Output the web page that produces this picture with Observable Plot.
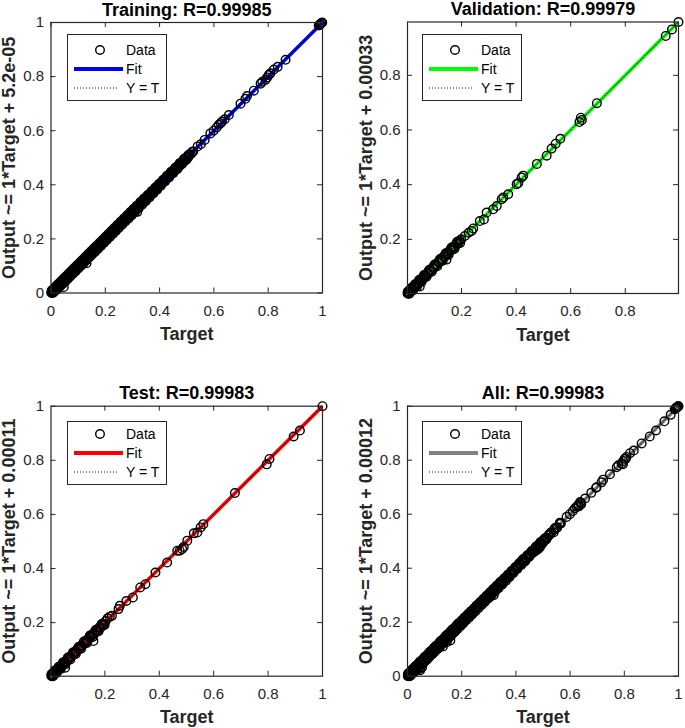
<!DOCTYPE html>
<html><head><meta charset="utf-8">
<script src="https://cdn.jsdelivr.net/npm/d3@7"></script>
<script src="https://cdn.jsdelivr.net/npm/@observablehq/plot@0.6"></script>
<style>
body{margin:0;background:#fff;}
#chart{position:relative;width:685px;height:728px;background:#fff;font-family:"Liberation Sans",Arial,sans-serif;overflow:hidden;}
#chart > svg{position:absolute;overflow:visible;}
</style></head><body><div id="chart"></div>
<script>
// ---- data: [target, output] pairs ----
const trainingPoints = [
[0.001,0.003],[0.002,0.000],[0.003,0.006],[0.004,0.002],[0.005,0.009],[0.006,0.004],[0.008,0.011],[0.009,0.006],[0.010,0.014],[0.012,0.008],
[0.013,0.016],[0.015,0.011],[0.017,0.019],[0.018,0.014],[0.020,0.023],[0.022,0.018],[0.024,0.027],[0.026,0.021],[0.028,0.031],[0.030,0.026],
[0.032,0.035],[0.034,0.030],[0.036,0.039],[0.038,0.033],[0.040,0.043],[0.043,0.038],[0.045,0.048],[0.047,0.022],[0.047,0.042],[0.049,0.053],
[0.052,0.047],[0.054,0.057],[0.056,0.051],[0.059,0.062],[0.061,0.056],[0.063,0.067],[0.066,0.061],[0.068,0.071],[0.070,0.066],[0.073,0.076],
[0.075,0.070],[0.078,0.081],[0.080,0.075],[0.082,0.086],[0.085,0.080],[0.087,0.090],[0.090,0.085],[0.092,0.095],[0.095,0.090],[0.097,0.100],
[0.100,0.095],[0.102,0.106],[0.105,0.100],[0.107,0.111],[0.110,0.105],[0.112,0.115],[0.115,0.110],[0.118,0.121],[0.120,0.115],[0.123,0.126],
[0.125,0.120],[0.128,0.131],[0.130,0.126],[0.131,0.110],[0.133,0.136],[0.135,0.131],[0.138,0.141],[0.140,0.136],[0.143,0.146],[0.146,0.141],
[0.148,0.151],[0.151,0.147],[0.153,0.157],[0.156,0.151],[0.159,0.162],[0.161,0.157],[0.164,0.167],[0.166,0.162],[0.169,0.172],[0.172,0.167],
[0.174,0.177],[0.177,0.173],[0.180,0.183],[0.182,0.178],[0.185,0.188],[0.188,0.183],[0.190,0.193],[0.193,0.189],[0.196,0.199],[0.198,0.194],
[0.201,0.204],[0.204,0.200],[0.207,0.210],[0.209,0.205],[0.212,0.215],[0.215,0.211],[0.218,0.221],[0.220,0.216],[0.223,0.226],[0.226,0.222],
[0.229,0.232],[0.232,0.228],[0.234,0.237],[0.237,0.233],[0.240,0.243],[0.243,0.239],[0.246,0.249],[0.249,0.245],[0.252,0.255],[0.255,0.251],
[0.258,0.261],[0.261,0.257],[0.264,0.267],[0.267,0.263],[0.270,0.273],[0.273,0.269],[0.276,0.279],[0.279,0.275],[0.282,0.285],[0.285,0.281],
[0.288,0.291],[0.291,0.287],[0.294,0.298],[0.297,0.293],[0.300,0.303],[0.303,0.299],[0.306,0.309],[0.309,0.305],[0.312,0.315],[0.315,0.311],
[0.318,0.300],[0.318,0.321],[0.322,0.318],[0.325,0.328],[0.328,0.324],[0.331,0.334],[0.334,0.330],[0.338,0.341],[0.341,0.337],[0.344,0.347],
[0.347,0.343],[0.351,0.354],[0.354,0.350],[0.357,0.360],[0.361,0.357],[0.364,0.367],[0.367,0.363],[0.371,0.374],[0.374,0.370],[0.378,0.381],
[0.381,0.377],[0.385,0.388],[0.388,0.384],[0.392,0.395],[0.396,0.392],[0.399,0.402],[0.403,0.399],[0.407,0.410],[0.410,0.406],[0.414,0.417],
[0.418,0.414],[0.421,0.424],[0.425,0.421],[0.429,0.432],[0.433,0.429],[0.437,0.440],[0.441,0.437],[0.444,0.447],[0.448,0.444],[0.452,0.455],
[0.456,0.452],[0.460,0.463],[0.464,0.460],[0.468,0.471],[0.472,0.468],[0.476,0.479],[0.480,0.476],[0.484,0.487],[0.488,0.484],[0.492,0.495],
[0.496,0.492],[0.500,0.503],[0.505,0.501],[0.510,0.512],[0.515,0.513],[0.520,0.522],[0.524,0.523],
[0.003,0.010],[0.007,0.000],[0.011,0.004],[0.014,0.021],[0.019,0.010],[0.023,0.030],[0.027,0.018],[0.031,0.038],[0.035,0.026],[0.039,0.046],
[0.044,0.034],[0.048,0.055],[0.053,0.043],[0.057,0.064],[0.062,0.052],[0.066,0.073],[0.071,0.061],[0.076,0.083],[0.081,0.071],[0.086,0.093],
[0.091,0.081],[0.096,0.103],[0.101,0.091],[0.106,0.113],[0.111,0.101],[0.116,0.123],[0.121,0.111],[0.126,0.133],[0.131,0.121],[0.137,0.144],
[0.142,0.132],[0.147,0.154],[0.152,0.142],[0.158,0.165],[0.163,0.153],[0.168,0.175],[0.173,0.163],[0.179,0.186],[0.184,0.174],[0.189,0.196],
[0.195,0.185],[0.200,0.207],[0.206,0.196],[0.211,0.218],[0.217,0.207],[0.222,0.229],[0.228,0.218],[0.233,0.240],[0.239,0.229],[0.244,0.251],
[0.250,0.240],[0.256,0.263],[0.262,0.252],[0.268,0.275],[0.274,0.264],[0.280,0.287],[0.286,0.276],[0.292,0.299],[0.298,0.288],[0.304,0.311],
[0.310,0.300],[0.316,0.323],[0.323,0.313],[0.329,0.336],[0.336,0.326],[0.342,0.349],[0.349,0.339],[0.356,0.362],[0.363,0.353],[0.370,0.376],
[0.377,0.368],[0.384,0.390],[0.391,0.382],[0.398,0.404],[0.405,0.397],[0.412,0.418],[0.420,0.412],[0.427,0.433],[0.435,0.427],[0.442,0.448],
[0.450,0.443],[0.458,0.464],[0.466,0.459],[0.474,0.480],[0.482,0.476],[0.490,0.496],[0.498,0.492],[0.506,0.510],
[0.005,0.006],[0.016,0.015],[0.025,0.024],[0.033,0.034],[0.042,0.040],[0.050,0.051],[0.058,0.057],[0.065,0.066],[0.074,0.072],[0.083,0.084],
[0.093,0.091],[0.103,0.104],[0.113,0.112],[0.124,0.125],[0.134,0.132],[0.144,0.145],[0.155,0.153],[0.165,0.166],[0.176,0.174],[0.186,0.187],
[0.197,0.195],[0.208,0.209],[0.219,0.217],[0.230,0.231],[0.241,0.239],[0.253,0.254],[0.265,0.263],[0.277,0.278],[0.289,0.287],[0.301,0.302],
[0.313,0.311],[0.326,0.327],[0.339,0.337],[0.352,0.353],[0.366,0.364],[0.380,0.381],[0.394,0.392],[0.409,0.410],[0.423,0.421],[0.438,0.439],
[0.454,0.452],[0.470,0.471],[0.486,0.484],[0.502,0.503],
[0.540,0.542],[0.552,0.550],[0.566,0.566],[0.587,0.590],[0.599,0.600],[0.610,0.612],[0.618,0.622],[0.625,0.628],[0.630,0.634],[0.640,0.642],
[0.655,0.658],[0.698,0.700],[0.716,0.718],[0.722,0.728],[0.747,0.748],[0.772,0.774],[0.778,0.781],[0.790,0.788],[0.796,0.797],[0.802,0.806],
[0.808,0.812],[0.821,0.826],[0.835,0.836],[0.864,0.862],[0.986,0.989],[0.990,0.992],[0.992,0.994],[0.996,0.998],[0.999,1.000]
];
const validationPoints = [
[0.002,0.003],[0.004,0.001],[0.006,0.008],[0.008,0.005],[0.011,0.013],[0.014,0.011],[0.017,0.019],[0.020,0.017],[0.024,0.026],[0.027,0.024],
[0.031,0.034],[0.035,0.032],[0.039,0.041],[0.043,0.040],[0.047,0.028],[0.047,0.050],[0.052,0.049],[0.056,0.059],[0.061,0.058],[0.065,0.068],
[0.070,0.067],[0.074,0.077],[0.079,0.076],[0.084,0.087],[0.089,0.086],[0.094,0.097],[0.099,0.096],[0.104,0.107],[0.109,0.106],[0.114,0.117],
[0.119,0.116],[0.124,0.127],[0.129,0.126],[0.134,0.137],[0.140,0.137],[0.145,0.126],[0.146,0.149],[0.152,0.149],[0.158,0.161],[0.164,0.161],
[0.170,0.173],[0.176,0.173],[0.181,0.185],[0.187,0.184],[0.193,0.196],[0.199,0.200],
[0.003,0.009],[0.009,0.001],[0.015,0.022],[0.022,0.013],[0.029,0.036],[0.037,0.028],[0.045,0.052],[0.054,0.045],[0.063,0.070],[0.072,0.063],
[0.081,0.088],[0.091,0.082],[0.101,0.108],[0.111,0.102],[0.121,0.128],[0.131,0.122],[0.142,0.149],[0.153,0.144],[0.163,0.170],[0.174,0.165],
[0.184,0.191],[0.195,0.187],
[0.005,0.005],[0.018,0.016],[0.033,0.034],[0.049,0.047],[0.067,0.068],[0.086,0.084],[0.106,0.107],[0.126,0.124],[0.148,0.149],[0.169,0.167],
[0.190,0.191],
[0.212,0.212],[0.226,0.224],[0.237,0.231],[0.243,0.240],[0.267,0.267],[0.282,0.273],[0.292,0.298],[0.316,0.310],[0.329,0.322],[0.347,0.347],
[0.353,0.353],[0.371,0.365],[0.402,0.402],[0.408,0.406],[0.420,0.426],[0.426,0.433],[0.476,0.476],[0.512,0.506],[0.530,0.532],[0.545,0.550],
[0.562,0.568],[0.632,0.629],[0.637,0.645],[0.641,0.637],[0.696,0.698],[0.948,0.944],[0.971,0.968],[0.995,0.995]
];
const testPoints = [
[0.003,0.004],[0.005,0.002],[0.007,0.009],[0.010,0.007],[0.013,0.015],[0.016,0.013],[0.019,0.022],[0.023,0.020],[0.027,0.029],[0.031,0.028],
[0.035,0.038],[0.039,0.036],[0.043,0.046],[0.048,0.045],[0.052,0.055],[0.054,0.033],[0.057,0.054],[0.062,0.065],[0.066,0.063],[0.071,0.074],
[0.076,0.073],[0.081,0.084],[0.086,0.083],[0.091,0.094],[0.096,0.093],[0.101,0.104],[0.106,0.103],[0.111,0.114],[0.116,0.113],[0.121,0.124],
[0.127,0.124],[0.132,0.135],[0.138,0.135],[0.143,0.146],[0.149,0.146],[0.155,0.158],[0.158,0.132],[0.161,0.158],[0.167,0.170],[0.173,0.170],
[0.179,0.182],[0.185,0.182],[0.191,0.194],[0.197,0.194],[0.203,0.206],
[0.004,0.010],[0.010,0.002],[0.016,0.023],[0.023,0.014],[0.030,0.037],[0.038,0.029],[0.046,0.053],[0.055,0.046],[0.064,0.071],[0.073,0.064],
[0.083,0.090],[0.093,0.084],[0.103,0.110],[0.113,0.104],[0.123,0.130],[0.134,0.125],[0.145,0.152],[0.156,0.147],[0.166,0.173],[0.177,0.168],
[0.188,0.195],[0.199,0.191],
[0.006,0.006],[0.020,0.018],[0.036,0.037],[0.053,0.051],[0.071,0.072],[0.090,0.088],[0.109,0.110],[0.129,0.127],[0.150,0.151],[0.171,0.169],
[0.193,0.194],
[0.210,0.216],[0.218,0.222],[0.226,0.225],[0.250,0.250],[0.255,0.262],[0.279,0.280],[0.303,0.293],[0.330,0.330],[0.349,0.342],[0.386,0.385],
[0.429,0.422],[0.466,0.466],[0.475,0.466],[0.484,0.472],[0.490,0.480],[0.503,0.503],[0.527,0.530],[0.540,0.533],[0.552,0.552],[0.562,0.564],
[0.678,0.679],[0.795,0.785],[0.805,0.805],[0.894,0.888],[0.917,0.910],[1.000,1.000]
];
const allPoints = [...trainingPoints, ...validationPoints, ...testPoints];

const panelNames = ["Training", "Validation", "Test", "All"];
const rValues = ["0.99985", "0.99979", "0.99983", "0.99983"];
const fitSlopes = [1, 1, 1, 1];
const fitIntercepts = [5.2e-5, 0.00033, 0.00011, 0.00012];
const interceptLabels = ["5.2e-05", "0.00033", "0.00011", "0.00012"];
const xDomains = [[0, 1], [0.002, 0.995], [0.002, 1], [0, 1]];
const yDomains = [[0, 1], [0.002, 0.995], [0.002, 1], [0, 1]];
const xTicks = [[0, 0.2, 0.4, 0.6, 0.8, 1], [0.2, 0.4, 0.6, 0.8], [0.2, 0.4, 0.6, 0.8, 1], [0, 0.2, 0.4, 0.6, 0.8, 1]];
const yTicks = [[0, 0.2, 0.4, 0.6, 0.8, 1], [0.2, 0.4, 0.6, 0.8], [0.2, 0.4, 0.6, 0.8, 1], [0, 0.2, 0.4, 0.6, 0.8, 1]];
const legendLabels = ["Data", "Fit", "Y = T"];
const series = [trainingPoints, validationPoints, testPoints, allPoints];

// ---- styling / layout ----
const fitColors = ["#0000ff", "#00ff00", "#ff0000", "#808080"];
const layout = [
  {left: 0,   top: 0,   width: 342, height: 364, mt: 22,   mb: 71.5, ml: 50.5, mr: 20, lgX: 67,    lgY: 34,  lgH: 66, lgPad: 16},
  {left: 342, top: 0,   width: 343, height: 364, mt: 21.5, mb: 71,   ml: 65,   mr: 7,  lgX: 421.7, lgY: 34,  lgH: 66, lgPad: 16},
  {left: 0,   top: 364, width: 342, height: 364, mt: 41.7, mb: 52.3, ml: 50.5, mr: 20, lgX: 67,    lgY: 421, lgH: 63, lgPad: 13},
  {left: 342, top: 364, width: 343, height: 364, mt: 41.7, mb: 52.3, ml: 65,   mr: 7,  lgX: 421.7, lgY: 421, lgH: 63, lgPad: 13}
];
const FONT = '"Liberation Sans", Arial, sans-serif';
const AXC = "#262626";
const chart = document.getElementById("chart");
const fmt = d => String(d);

for (let i = 0; i < 4; i++) {
  const L = layout[i];
  const fw = L.width - L.ml - L.mr, fh = L.height - L.mt - L.mb, tl = 5;
  const slope = fitSlopes[i], icpt = fitIntercepts[i];
  const plot = Plot.plot({
    width: L.width, height: L.height,
    marginLeft: L.ml, marginRight: L.mr, marginTop: L.mt, marginBottom: L.mb,
    x: {domain: xDomains[i]},
    y: {domain: yDomains[i]},
    style: {fontFamily: FONT, color: AXC, background: "transparent", overflow: "visible"},
    marks: [
      Plot.line(xDomains[i], {x: d => d, y: d => slope * d + icpt, stroke: fitColors[i], strokeWidth: 3.5, clip: true}),
      Plot.line(xDomains[i], {x: d => d, y: d => d, stroke: "#000", strokeWidth: 1, strokeDasharray: "1,2", clip: true}),
      Plot.dot(series[i], {x: d => d[0], y: d => d[1], r: 4.3, stroke: "#000", strokeWidth: 1.4, fill: "none"}),
      Plot.tickX(xTicks[i], {x: d => d, insetTop: fh - tl, stroke: AXC}),
      Plot.tickX(xTicks[i], {x: d => d, insetBottom: fh - tl, stroke: AXC}),
      Plot.tickY(yTicks[i], {y: d => d, insetRight: fw - tl, stroke: AXC}),
      Plot.tickY(yTicks[i], {y: d => d, insetLeft: fw - tl, stroke: AXC}),
      Plot.axisX(xTicks[i], {anchor: "bottom", tickSize: 0, tickPadding: 12, fontSize: 15, label: null, tickFormat: fmt}),
      Plot.axisY(yTicks[i], {anchor: "left", tickSize: 0, tickPadding: 7, fontSize: 15, label: null, tickFormat: fmt}),
      Plot.frame({stroke: AXC, strokeWidth: 1.2}),
      Plot.text([`${panelNames[i]}: R=${rValues[i]}`], {text: d => d, frameAnchor: "top", textAnchor: "middle", dy: -7, lineAnchor: "bottom", fontSize: 18, fontWeight: "bold", fill: "#000"}),
      Plot.text(["Target"], {text: d => d, frameAnchor: "bottom", textAnchor: "middle", dy: 47, lineAnchor: "bottom", fontSize: 18, fontWeight: "bold", fill: AXC}),
      Plot.text([`Output ~= ${slope}*Target + ${interceptLabels[i]}`], {text: d => d, frameAnchor: "left", textAnchor: "middle", dx: -36, rotate: -90, lineAnchor: "bottom", fontSize: 18, fontWeight: "bold", fill: AXC})
    ]
  });
  plot.style.left = L.left + "px";
  plot.style.top = L.top + "px";
  chart.appendChild(plot);

  // legend box
  const w = 99, h = L.lgH, p = L.lgPad;
  const lg = d3.create("svg").attr("width", w + 2).attr("height", h + 2)
    .style("left", L.lgX + "px").style("top", L.lgY + "px").style("font-family", FONT);
  lg.append("rect").attr("x", 0.5).attr("y", 0.5).attr("width", w).attr("height", h)
    .attr("fill", "#fff").attr("stroke", AXC).attr("stroke-width", 1);
  lg.append("circle").attr("cx", 33).attr("cy", p).attr("r", 4.3).attr("fill", "none").attr("stroke", "#000").attr("stroke-width", 1.4);
  lg.append("line").attr("x1", 7).attr("x2", 56).attr("y1", p + 19).attr("y2", p + 19)
    .attr("stroke", fitColors[i]).attr("stroke-width", 4);
  lg.append("line").attr("x1", 7).attr("x2", 51).attr("y1", p + 38).attr("y2", p + 38)
    .attr("stroke", "#000").attr("stroke-width", 1).attr("stroke-dasharray", "1,2");
  legendLabels.forEach((t, k) => {
    lg.append("text").attr("x", 59).attr("y", p + 5 + k * 18.8).attr("font-size", 14).attr("fill", "#000").text(t);
  });
  chart.appendChild(lg.node());
}
</script></body></html>
